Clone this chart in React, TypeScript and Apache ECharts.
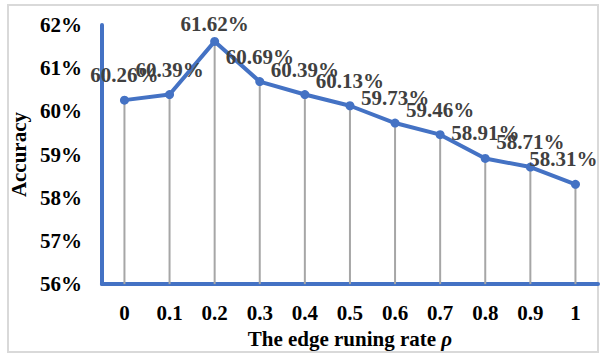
import React, { useEffect, useRef } from "react";
import * as echarts from "echarts";

const categories = ["0", "0.1", "0.2", "0.3", "0.4", "0.5", "0.6", "0.7", "0.8", "0.9", "1"];
const accuracy = [60.26, 60.39, 61.62, 60.69, 60.39, 60.13, 59.73, 59.46, 58.91, 58.71, 58.31];
const yTicks = [56, 57, 58, 59, 60, 61, 62];

const FONT = "'Liberation Serif', 'Times New Roman', serif";
const BLUE = "#4472C4";

export default function App() {
  const ref = useRef<HTMLDivElement>(null);
  useEffect(() => {
    if (!ref.current) return;
    const chart = echarts.init(ref.current, undefined, { renderer: "svg" });
    const lastIdx = accuracy.length - 1;
    const peakIdx = 2;
    chart.setOption({
      animation: false,
      backgroundColor: "#ffffff",
      graphic: [
        {
          type: "rect",
          shape: { x: 8, y: 5, width: 590, height: 347 },
          style: { fill: "none", stroke: "#d9d9d9", lineWidth: 2 },
          silent: true,
          z: -10,
        },
      ],
      grid: { left: 101, right: 4, top: 25, bottom: 63, containLabel: false },
      xAxis: {
        type: "category",
        data: categories,
        boundaryGap: true,
        axisLine: { show: true, lineStyle: { color: BLUE, width: 4 } },
        axisTick: { show: false },
        axisLabel: {
          color: "#000",
          fontFamily: FONT,
          fontWeight: "bold",
          fontSize: 21,
          margin: 18,
        },
        name: "The edge runing rate {i|ρ}",
        nameLocation: "middle",
        nameGap: 41,
        nameTextStyle: {
          color: "#000",
          fontFamily: FONT,
          fontWeight: "bold",
          fontSize: 21,
          rich: {
            i: { fontFamily: FONT, fontWeight: "bold", fontStyle: "italic", fontSize: 21, color: "#000" },
          },
        },
      },
      yAxis: {
        type: "value",
        min: yTicks[0],
        max: yTicks[yTicks.length - 1],
        interval: 1,
        axisLine: { show: true, lineStyle: { color: BLUE, width: 4 } },
        axisTick: { show: false },
        splitLine: { show: false },
        axisLabel: {
          color: "#000",
          fontFamily: FONT,
          fontWeight: "bold",
          fontSize: 21,
          margin: 20,
          formatter: (v: number) => `${v}%`,
        },
        name: "Accuracy",
        nameLocation: "middle",
        nameGap: 60,
        nameTextStyle: {
          color: "#000",
          fontFamily: FONT,
          fontWeight: "bold",
          fontSize: 21,
        },
      },
      series: [
        {
          type: "bar",
          data: accuracy,
          barWidth: 2,
          itemStyle: { color: "#a6a6a6" },
          z: 1,
          silent: true,
        },
        {
          type: "line",
          data: accuracy.map((v, i) =>
            i === lastIdx
              ? { value: v, label: { offset: [-12, 0] } }
              : i === peakIdx
              ? { value: v, label: { offset: [0, 8] } }
              : v
          ),
          symbol: "circle",
          symbolSize: 9,
          lineStyle: { color: BLUE, width: 4 },
          itemStyle: { color: BLUE },
          z: 3,
          label: {
            show: true,
            position: "top",
            distance: 10,
            color: "#404040",
            fontFamily: FONT,
            fontWeight: "bold",
            fontSize: 21,
            formatter: (p: any) => `${Number(p.value).toFixed(2)}%`,
          },
        },
      ],
    });
    return () => chart.dispose();
  }, []);
  return <div ref={ref} style={{ width: 602, height: 354, position: "absolute", left: 0, top: 0 }} />;
}
